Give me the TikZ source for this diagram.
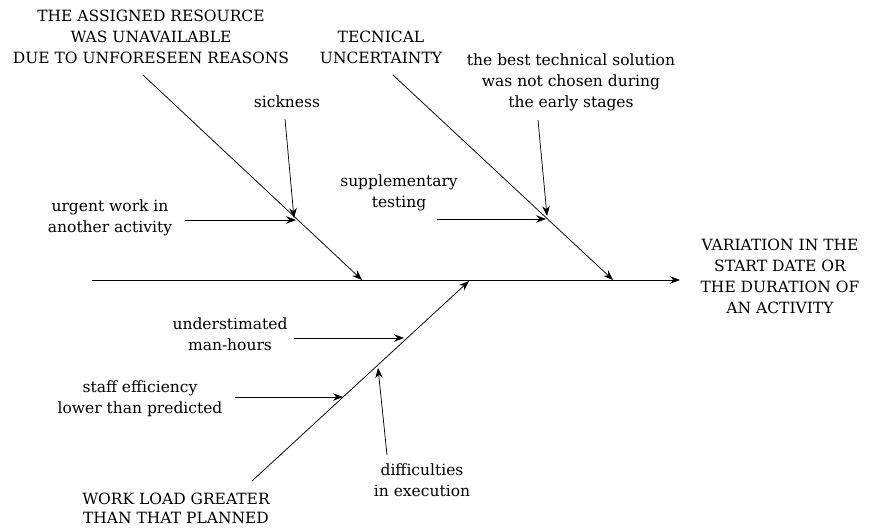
\documentclass[tikz,border=0pt]{standalone}
\usepackage{fontspec}
\setmainfont{DejaVu Serif}
\usetikzlibrary{arrows.meta}
\begin{document}
\begin{tikzpicture}[x=1pt,y=-1pt,
  lbl/.style={align=center,inner sep=0pt,font=\fontsize{15.5}{21}\selectfont},
  bone/.style={line width=0.75pt,-{Stealth[length=10pt,width=7.5pt]}},
  sub/.style={line width=0.75pt,-{Stealth[length=10pt,width=7.5pt]}}]
\useasboundingbox (0,0) rectangle (874,529);
% spine
\coordinate (s0) at (92,280);
\coordinate (s1) at (680,280);
\draw[bone] (s0) -- (s1);
\node[lbl] (eff) at (780,276) {VARIATION IN THE\\START DATE OR\\THE DURATION OF\\AN ACTIVITY};
% bones
\coordinate (b1s) at (143,75);  \coordinate (b1e) at (362,280);
\coordinate (b2s) at (393,75);  \coordinate (b2e) at (613,280);
\coordinate (b3s) at (252,481); \coordinate (b3e) at (469,281);
\draw[bone] (b1s) -- (b1e);
\draw[bone] (b2s) -- (b2e);
\draw[bone] (b3s) -- (b3e);
% main cause labels
\node[lbl] (c1) at (151,37) {THE ASSIGNED RESOURCE\\WAS UNAVAILABLE\\DUE TO UNFORESEEN REASONS};
\node[lbl] (c2) at (381,47) {TECNICAL\\UNCERTAINTY};
\node[lbl,font=\fontsize{15.5}{19}\selectfont] (c3) at (176,508) {WORK LOAD GREATER\\THAN THAT PLANNED};
% sub causes
\node[lbl] (sick) at (287,102) {sickness};
\coordinate (sickS) at (285,119); \coordinate (sickE) at (294,218);
\draw[sub] (sickS) -- (sickE);
\node[lbl] (urg) at (110,218) {urgent work in\\another activity};
\coordinate (urgS) at (185,220); \coordinate (urgE) at (296,220);
\draw[sub] (urgS) -- (urgE);
\node[lbl] (supp) at (399,193) {supplementary\\testing};
\coordinate (suppS) at (437,219); \coordinate (suppE) at (546,219);
\draw[sub] (suppS) -- (suppE);
\node[lbl] (best) at (571,82) {the best technical solution\\was not chosen during\\the early stages};
\coordinate (bestS) at (538,120); \coordinate (bestE) at (547,216);
\draw[sub] (bestS) -- (bestE);
\node[lbl] (under) at (230,334) {understimated\\man-hours};
\coordinate (underS) at (294,338); \coordinate (underE) at (404,338);
\draw[sub] (underS) -- (underE);
\node[lbl] (staff) at (140,399) {staff efficiency\\lower than predicted};
\coordinate (staffS) at (235,397); \coordinate (staffE) at (343,397);
\draw[sub] (staffS) -- (staffE);
\node[lbl] (diff) at (422,480) {difficulties\\in execution};
\coordinate (diffS) at (387,455); \coordinate (diffE) at (378,368);
\draw[sub] (diffS) -- (diffE);
\end{tikzpicture}
\end{document}
